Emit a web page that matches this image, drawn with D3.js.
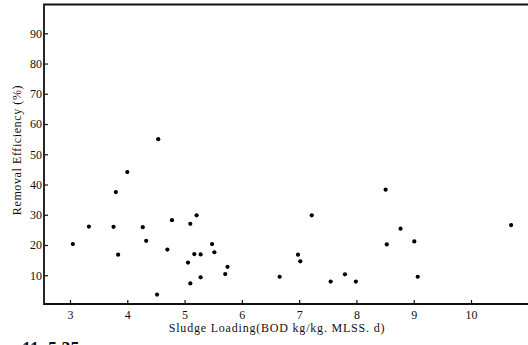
<!DOCTYPE html>
<html><head><meta charset="utf-8">
<script src="https://cdn.jsdelivr.net/npm/d3@7"></script>
<style>html,body{margin:0;padding:0;background:#fff;overflow:hidden}</style>
</head><body>
<script>
const loading = [3.05,3.33,3.76,3.80,3.84,4.00,4.27,4.33,4.54,4.52,4.70,4.78,5.06,5.10,5.10,5.21,5.17,5.28,5.28,5.48,5.52,5.71,5.75,6.66,6.98,7.02,7.22,7.55,7.80,7.99,8.51,8.53,8.77,9.01,9.07,10.70];
const efficiency = [20.3,26.1,26.0,37.5,16.8,44.1,25.9,21.4,55.0,3.6,18.5,28.2,14.2,27.0,7.3,29.8,17.0,16.9,9.3,20.3,17.6,10.4,12.8,9.5,16.8,14.6,29.8,7.9,10.3,7.9,38.3,20.2,25.4,21.2,9.5,26.6];
const xTicks = [3,4,5,6,7,8,9,10];
const yTicks = [10,20,30,40,50,60,70,80,90];

const W = 528, H = 345;
const svg = d3.select("body").append("svg").attr("width", W).attr("height", H);
const x = d3.scaleLinear().domain([3,10]).range([70,471]);
const y = d3.scaleLinear().domain([0,90]).range([305.5,33.3]);
const fLeft = 44, fTop = 4.5, fBottom = 304, fRight = 530;
const font = "'Liberation Serif', 'DejaVu Serif', serif";

// frame
svg.append("path")
  .attr("d", `M${fRight},${fTop}H${fLeft}V${fBottom}H${fRight}`)
  .attr("fill","none").attr("stroke","#111").attr("stroke-width",1.8);

// y axis
const yAxis = svg.append("g").attr("transform", `translate(${fLeft},0)`)
  .call(d3.axisRight(y).tickValues(yTicks).tickSize(4).tickFormat(d3.format("d")));
yAxis.select(".domain").remove();
yAxis.selectAll("line").attr("stroke","#111").attr("stroke-width",1.2);
yAxis.selectAll("text").attr("x",-2).attr("text-anchor","end")
  .style("font-family",font).style("font-size","12px").attr("fill","#111");

// x axis
const xAxis = svg.append("g").attr("transform", `translate(0,${fBottom})`)
  .call(d3.axisTop(x).tickValues(xTicks).tickSize(4).tickFormat(d3.format("d")));
xAxis.select(".domain").remove();
xAxis.selectAll("line").attr("stroke","#111").attr("stroke-width",1.2);
xAxis.selectAll("text").attr("y",14.5).attr("dy",0)
  .style("font-family",font).style("font-size","12px").attr("fill","#111");

// points
svg.append("g").selectAll("circle").data(loading.map((d,i)=>[d,efficiency[i]]))
  .join("circle").attr("cx",d=>x(d[0])).attr("cy",d=>y(d[1])).attr("r",2.1).attr("fill","#000");

// labels
svg.append("text").attr("transform","translate(21,150) rotate(-90)")
  .attr("text-anchor","middle").style("font-family",font).style("font-size","12px")
  .style("letter-spacing","0.6px").attr("fill","#111").text("Removal Efficiency (%)");
svg.append("text").attr("x",277).attr("y",332).attr("text-anchor","middle")
  .style("font-family",font).style("font-size","12px").style("letter-spacing","0.8px").attr("fill","#111")
  .text("Sludge Loading(BOD kg/kg. MLSS. d)");
svg.append("text").attr("x",22).attr("y",355).style("font-family",font)
  .style("font-size","18px").style("font-weight","bold").attr("fill","#111").text("11. 5.35");
</script>
</body></html>
